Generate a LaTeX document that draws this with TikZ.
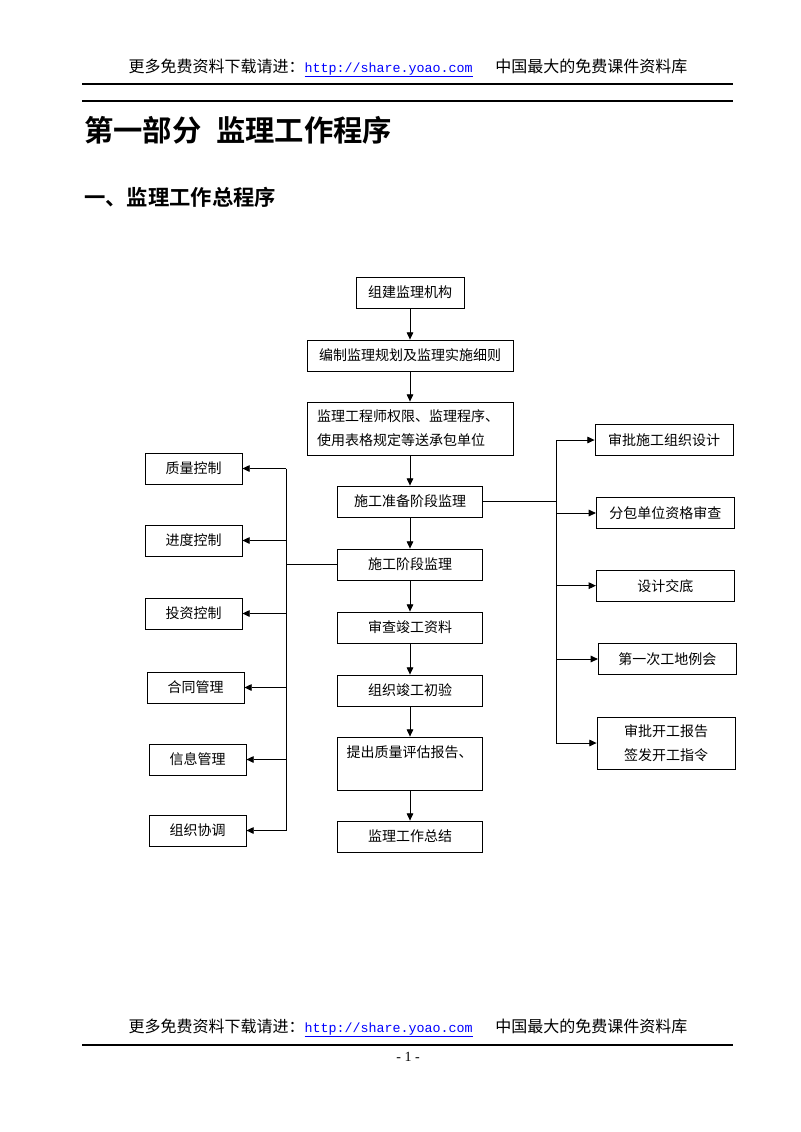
\documentclass[tikz,border=0pt]{standalone}
\usepackage{fontspec}
\setmainfont{Liberation Serif}
\newfontfamily\cjk{Noto Sans CJK SC}
\newfontfamily\cjkbf{Noto Sans CJK SC Bold}
\newfontfamily\urlfont{Liberation Mono}
\usetikzlibrary{arrows.meta, positioning}
\tikzstyle{box} = [rectangle, draw=black, line width=0.6pt, minimum height=23.25pt, inner sep=2pt, text centered, font=\cjk\fontsize{10.5}{18}\selectfont]
\tikzstyle{mainbox} = [box, minimum width=108.75pt]
\tikzstyle{widebox} = [box, minimum width=154.5pt]
\tikzstyle{sidebox} = [box, minimum width=72.75pt]
\tikzstyle{rightbox} = [box, minimum width=103.5pt]
\tikzstyle{arrow} = [line width=0.7pt, -{Triangle[length=5.5pt,width=5pt]}]
\tikzstyle{bus} = [line width=0.7pt]
\tikzstyle{rule} = [line width=1pt]

\begin{document}
\begin{tikzpicture}[x=0.75pt, y=-0.75pt, node distance=47.25pt]
\useasboundingbox (0,0) rectangle (800,1132);

% Header and title
\node (header) at (408,68) {\cjk\fontsize{12}{14}\selectfont 更多免费资料下载请进：{\urlfont\fontsize{10}{12}\selectfont\color{blue}\underline{http://share.yoao.com}}\hspace{17pt}中国最大的免费课件资料库};
\draw [rule] (82,84) -- (733,84);
\draw [rule] (82,101) -- (733,101);
\node (title) [anchor=west, inner sep=0pt] at (84,130) {\cjkbf\fontsize{22}{24}\selectfont 第一部分\hspace{0.5em}监理工作程序};
\node (subtitle) [anchor=west, inner sep=0pt] at (84,197) {\cjkbf\fontsize{16}{18}\selectfont 一、监理工作总程序};

% Main chain
\node (jigou) [box, minimum width=81pt] at (410,292.5) {组建监理机构};
\node (guihua) [widebox, below of=jigou] {编制监理规划及监理实施细则};
\node (quanxian) [widebox, below of=guihua, yshift=-7.5pt, minimum height=39.75pt, text width=139.5pt, align=left] {监理工程师权限、监理程序、\\使用表格规定等送承包单位};
\node (zhunbei) [mainbox, below of=quanxian, yshift=-7.5pt] {施工准备阶段监理};
\node (shigong) [mainbox, below of=zhunbei] {施工阶段监理};
\node (shencha) [mainbox, below of=shigong] {审查竣工资料};
\node (chuyan) [mainbox, below of=shencha] {组织竣工初验};
\node (baogao) [mainbox, below of=chuyan, yshift=-7.5pt, minimum height=39.75pt, text width=95pt, align=left] {提出质量评估报告、\\\mbox{}};
\node (zongjie) [mainbox, below of=baogao, yshift=-7.5pt] {监理工作总结};

% Left column
\node (zhiliang) [sidebox] at (193.5,468.5) {质量控制};
\node (jindu) [sidebox, below of=zhiliang, node distance=54pt] {进度控制};
\node (touzi) [sidebox, below of=jindu, node distance=54.75pt] {投资控制};
\node (hetong) [sidebox, below of=touzi, node distance=55.5pt, xshift=1.5pt] {合同管理};
\node (xinxi) [sidebox, below of=hetong, node distance=54pt, xshift=1.5pt] {信息管理};
\node (xietiao) [sidebox, below of=xinxi, node distance=53.25pt] {组织协调};

% Right column
\node (sheji) [rightbox] at (664,440) {审批施工组织设计};
\node (fenbao) [rightbox, below of=sheji, node distance=54.75pt, xshift=1pt] {分包单位资格审查};
\node (jiaodi) [rightbox, below of=fenbao, node distance=54.5pt] {设计交底};
\node (lihui) [rightbox, below of=jiaodi, node distance=55pt, xshift=1.5pt] {第一次工地例会};
\node (kaigong) [rightbox, below of=lihui, node distance=63pt, xshift=-1pt, minimum height=39pt, align=center] {审批开工报告\\签发开工指令};

\coordinate (lbus) at (286,565);
\coordinate (rbus) at (556,502);

% Arrows
\draw [arrow] (jigou) -- (guihua);
\draw [arrow] (guihua) -- (quanxian);
\draw [arrow] (quanxian) -- (zhunbei);
\draw [arrow] (zhunbei) -- (shigong);
\draw [arrow] (shigong) -- (shencha);
\draw [arrow] (shencha) -- (chuyan);
\draw [arrow] (chuyan) -- (baogao);
\draw [arrow] (baogao) -- (zongjie);

\draw [bus] (shigong.west) -- (shigong.west -| lbus);
\draw [bus] (lbus |- zhiliang) -- (lbus |- xietiao);
\draw [arrow] (lbus |- zhiliang) -- (zhiliang);
\draw [arrow] (lbus |- jindu) -- (jindu);
\draw [arrow] (lbus |- touzi) -- (touzi);
\draw [arrow] (lbus |- hetong) -- (hetong);
\draw [arrow] (lbus |- xinxi) -- (xinxi);
\draw [arrow] (lbus |- xietiao) -- (xietiao);

\draw [bus] (zhunbei.east) -- (zhunbei.east -| rbus);
\draw [bus] (rbus |- sheji) -- (rbus |- kaigong);
\draw [arrow] (rbus |- sheji) -- (sheji);
\draw [arrow] (rbus |- fenbao) -- (fenbao);
\draw [arrow] (rbus |- jiaodi) -- (jiaodi);
\draw [arrow] (rbus |- lihui) -- (lihui);
\draw [arrow] (rbus |- kaigong) -- (kaigong);

% Footer
\node (footer) at (408,1028) {\cjk\fontsize{12}{14}\selectfont 更多免费资料下载请进：{\urlfont\fontsize{10}{12}\selectfont\color{blue}\underline{http://share.yoao.com}}\hspace{17pt}中国最大的免费课件资料库};
\draw [rule] (82,1045) -- (733,1045);
\node (page) at (408,1057) {\fontsize{10.5}{12}\selectfont - 1 -};

\end{tikzpicture}
\end{document}
